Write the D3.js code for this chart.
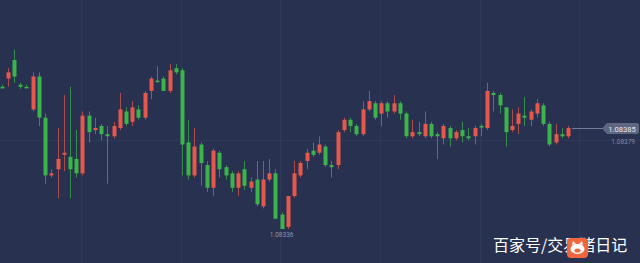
<!DOCTYPE html>
<html>
<head>
<meta charset="utf-8">
<script src="https://cdn.jsdelivr.net/npm/d3@7"></script>
<style>
  body { margin: 0; background: #293151; }
  svg { display: block; }
</style>
</head>
<body>
<script>
var w = 640;
var h = 263;

// candle data, price
var open  = [1.08405,1.08409,1.08418,1.08406,1.08405,1.08394,1.08410,1.08390,1.08362,1.08365,
             1.08372,1.08371,1.08370,1.08363,1.08391,1.08384,1.08386,1.08382,1.08381,1.08385,
             1.08393,1.08388,1.08394,1.08390,1.08403,1.08408,1.08409,1.08403,1.08414,1.08413,
             1.08378,1.08362,1.08377,1.08367,1.08356,1.08373,1.08366,1.08363,1.08356,1.08365,
             1.08356,1.08360,1.08347,1.08360,1.08363,1.08343,1.08337,1.08352,1.08362,1.08369,
             1.08374,1.08373,1.08376,1.08367,1.08367,1.08384,1.08389,1.08386,1.08382,1.08394,
             1.08397,1.08392,1.08397,1.08393,1.08397,1.08392,1.08381,1.08383,1.08381,1.08387,
             1.08382,1.08380,1.08385,1.08380,1.08384,1.08381,1.08381,1.08386,1.08385,1.08402,
             1.08401,1.08395,1.08384,1.08387,1.08391,1.08389,1.08392,1.08396,1.08387,1.08378,
             1.08382,1.08381];
var high  = [1.08406,1.08414,1.08423,1.08407,1.08406,1.08412,1.08412,1.08392,1.08365,1.08385,
             1.08401,1.08405,1.08384,1.08393,1.08393,1.08390,1.08387,1.08386,1.08388,1.08402,
             1.08395,1.08398,1.08396,1.08403,1.08410,1.08415,1.08410,1.08416,1.08416,1.08414,
             1.08389,1.08385,1.08378,1.08369,1.08375,1.08374,1.08367,1.08364,1.08364,1.08369,
             1.08361,1.08369,1.08369,1.08370,1.08365,1.08344,1.08352,1.08369,1.08369,1.08375,
             1.08378,1.08381,1.08377,1.08369,1.08384,1.08390,1.08390,1.08387,1.08398,1.08403,
             1.08398,1.08398,1.08398,1.08401,1.08398,1.08393,1.08389,1.08388,1.08393,1.08388,
             1.08383,1.08387,1.08386,1.08384,1.08388,1.08385,1.08386,1.08387,1.08407,1.08403,
             1.08402,1.08395,1.08394,1.08395,1.08400,1.08394,1.08399,1.08397,1.08388,1.08387,
             1.08385,1.08386];
var low   = [1.08404,1.08405,1.08407,1.08404,1.08405,1.08393,1.08386,1.08358,1.08361,1.08351,
             1.08364,1.08351,1.08361,1.08362,1.08378,1.08382,1.08379,1.08358,1.08380,1.08384,
             1.08386,1.08386,1.08389,1.08389,1.08399,1.08407,1.08403,1.08402,1.08411,1.08362,
             1.08360,1.08361,1.08357,1.08354,1.08352,1.08361,1.08360,1.08354,1.08352,1.08355,
             1.08354,1.08347,1.08346,1.08359,1.08341,1.08336,1.08336,1.08351,1.08361,1.08365,
             1.08371,1.08372,1.08366,1.08361,1.08365,1.08383,1.08383,1.08381,1.08381,1.08393,
             1.08389,1.08386,1.08390,1.08392,1.08389,1.08380,1.08380,1.08381,1.08380,1.08380,
             1.08370,1.08377,1.08376,1.08379,1.08378,1.08379,1.08377,1.08381,1.08384,1.08393,
             1.08392,1.08376,1.08383,1.08382,1.08386,1.08386,1.08390,1.08386,1.08376,1.08377,
             1.08380,1.08380];
var close = [1.08405,1.08412,1.08410,1.08405,1.08405,1.08410,1.08390,1.08362,1.08363,1.08370,
             1.08373,1.08365,1.08363,1.08391,1.08383,1.08385,1.08382,1.08381,1.08386,1.08394,
             1.08387,1.08395,1.08390,1.08402,1.08409,1.08408,1.08403,1.08413,1.08412,1.08377,
             1.08362,1.08376,1.08368,1.08356,1.08374,1.08365,1.08362,1.08356,1.08363,1.08357,
             1.08359,1.08348,1.08360,1.08363,1.08341,1.08336,1.08352,1.08363,1.08368,1.08373,
             1.08372,1.08377,1.08367,1.08366,1.08383,1.08389,1.08386,1.08382,1.08394,1.08398,
             1.08390,1.08397,1.08393,1.08397,1.08392,1.08381,1.08383,1.08382,1.08387,1.08381,
             1.08381,1.08386,1.08380,1.08383,1.08381,1.08380,1.08385,1.08386,1.08403,1.08401,
             1.08396,1.08383,1.08386,1.08392,1.08390,1.08393,1.08397,1.08387,1.08377,1.08382,
             1.08381,1.08385];

var gridTimes = [12.8, 28.8, 44.8, 60.8, 76.8, 92.8];
var gridPrices = [1.08379];
var markLabel = "1.08379";
var watermark = "百家号/交易猪日记";

var upColor = "#e5584b";
var downColor = "#3bb44b";

var n = open.length;

var xScale = d3.scaleLinear()
               .domain([0, n - 1])
               .range([1.5, 568]);

var yScale = d3.scaleLinear()
               .domain([1.08336, 1.08385])
               .range([229, 128]);

var svg = d3.select("body")
            .append("svg")
            .attr("width", w)
            .attr("height", h);

svg.append("rect")
   .attr("width", w)
   .attr("height", h)
   .attr("fill", "#293151");

// grid
svg.selectAll(".vgrid")
   .data(gridTimes)
   .enter()
   .append("line")
   .attr("x1", function(d) { return Math.round(xScale(d)) + 0.5; })
   .attr("x2", function(d) { return Math.round(xScale(d)) + 0.5; })
   .attr("y1", 0)
   .attr("y2", h)
   .attr("stroke", "#ffffff")
   .attr("stroke-opacity", 0.035);

svg.selectAll(".hgrid")
   .data(gridPrices)
   .enter()
   .append("line")
   .attr("x1", 0)
   .attr("x2", w)
   .attr("y1", function(d) { return Math.round(yScale(d)) + 0.5; })
   .attr("y2", function(d) { return Math.round(yScale(d)) + 0.5; })
   .attr("stroke", "#ffffff")
   .attr("stroke-opacity", 0.035);

var idx = d3.range(n);

function color(i) {
  return close[i] > open[i] ? upColor : downColor;
}

// wicks
svg.selectAll(".wick")
   .data(idx)
   .enter()
   .append("line")
   .attr("x1", function(i) { return Math.round(xScale(i)) + 0.5; })
   .attr("x2", function(i) { return Math.round(xScale(i)) + 0.5; })
   .attr("y1", function(i) { return yScale(high[i]); })
   .attr("y2", function(i) { return yScale(low[i]); })
   .attr("stroke", color)
   .attr("stroke-opacity", 0.7);

// bodies
svg.selectAll(".body")
   .data(idx)
   .enter()
   .append("rect")
   .attr("x", function(i) { return Math.round(xScale(i)) - 1.5; })
   .attr("width", 4)
   .attr("y", function(i) { return yScale(Math.max(open[i], close[i])); })
   .attr("height", function(i) {
     return Math.max(1.6, Math.abs(yScale(open[i]) - yScale(close[i])));
   })
   .attr("fill", color);

// last price line + tag
var last = close[n - 1];
var ly = Math.round(yScale(last)) + 0.5;
var lx = Math.round(xScale(n - 1)) + 4;

svg.append("line")
   .attr("x1", lx)
   .attr("x2", 604)
   .attr("y1", ly)
   .attr("y2", ly)
   .attr("stroke", "#737c96")
   .attr("stroke-width", 1);

svg.append("path")
   .attr("d", "M602," + ly + "L607," + (ly - 5.5) + "H637a2,2 0 0 1 2,2V" + (ly + 3.5) +
              "a2,2 0 0 1 -2,2H607Z")
   .attr("fill", "#5e6680");

svg.append("text")
   .attr("x", 622)
   .attr("y", ly + 3)
   .attr("text-anchor", "middle")
   .attr("font-family", "Roboto, 'DejaVu Sans', sans-serif")
   .attr("font-size", 7.5)
   .attr("fill", "#e6e9f2")
   .text(last.toFixed(5));

svg.append("text")
   .attr("x", 635)
   .attr("y", yScale(gridPrices[0]) + 3.5)
   .attr("text-anchor", "end")
   .attr("font-family", "Roboto, 'DejaVu Sans', sans-serif")
   .attr("font-size", 6.5)
   .attr("fill", "#7f88a2")
   .text(markLabel);

// lowest point label
var minI = d3.minIndex(low);
svg.append("text")
   .attr("x", xScale(minI))
   .attr("y", yScale(low[minI]) + 8)
   .attr("text-anchor", "middle")
   .attr("font-family", "Roboto, 'DejaVu Sans', sans-serif")
   .attr("font-size", 6.5)
   .attr("fill", "#8a93ad")
   .text(low[minI].toFixed(5));

// watermark
svg.append("text")
   .attr("x", 493)
   .attr("y", 251)
   .attr("font-family", "'Noto Sans CJK SC', sans-serif")
   .attr("font-size", 16)
   .attr("fill", "#ffffff")
   .text(watermark);

var logo = svg.append("g").attr("transform", "translate(567,238)");
logo.append("rect")
    .attr("width", 21)
    .attr("height", 20)
    .attr("rx", 4)
    .attr("fill", "#f0673d");
logo.append("path")
    .attr("d", "M5,7L6,3L9,6ZM16,7L15,3L12,6Z")
    .attr("fill", "#ffffff");
logo.append("ellipse")
    .attr("cx", 10.5)
    .attr("cy", 11)
    .attr("rx", 7)
    .attr("ry", 5)
    .attr("fill", "#ffffff");
logo.append("ellipse")
    .attr("cx", 10.5)
    .attr("cy", 12.5)
    .attr("rx", 3)
    .attr("ry", 2)
    .attr("fill", "#f0673d");
</script>
</body>
</html>
